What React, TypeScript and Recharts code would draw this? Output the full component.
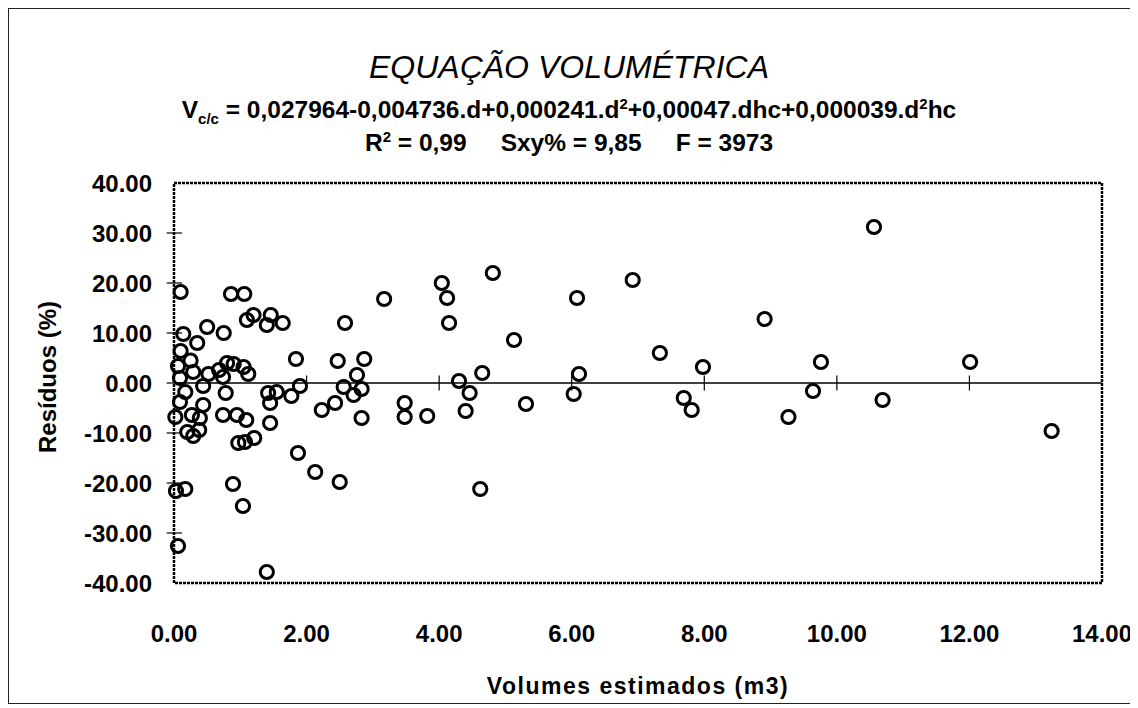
import React from "react";
import {
  ScatterChart,
  Scatter,
  XAxis,
  YAxis,
  ReferenceLine,
  ReferenceArea,
} from "recharts";

// volume estimado (m3)
const volumes = [
  0.1, 0.86, 1.06, 1.1, 1.2, 1.46, 1.4, 1.64, 0.5, 0.75, 0.14, 0.35, 0.1, 0.25,
  0.8, 0.9, 0.68, 1.05, 1.12, 0.06, 0.29, 0.52, 0.09, 0.74, 0.44, 0.17, 0.78,
  0.09, 0.44, 0.02, 0.27, 0.39, 0.74, 0.95, 1.09, 0.2, 0.29, 0.38, 0.97, 1.07,
  1.21, 1.42, 1.45, 1.45, 1.55, 1.77, 1.9, 0.03, 0.17, 0.06, 0.89, 1.04, 1.4,
  1.87, 2.13, 2.5, 1.84, 2.47, 2.87, 2.76, 2.56, 2.83, 2.71, 2.43, 2.23, 2.83,
  2.58, 3.17, 3.48, 3.48, 3.82, 4.04, 4.12, 4.15, 4.81, 5.13, 6.08, 6.92, 7.33,
  7.98, 4.65, 4.3, 4.46, 6.11, 6.03, 5.31, 4.4, 7.69, 7.81, 4.62, 10.56, 8.91,
  9.76, 9.64, 9.27, 10.69, 12.01, 13.24,
];

// resíduo (%)
const residuos = [
  18.2, 17.8, 17.8, 12.6, 13.6, 13.6, 11.6, 12.0, 11.2, 10.0, 9.8, 8.0, 6.4,
  4.5, 4.0, 3.8, 2.6, 3.2, 1.8, 3.4, 2.2, 1.8, 1.0, 1.2, -0.6, -1.8, -2.0, -3.8,
  -4.4, -6.8, -6.4, -7.0, -6.4, -6.4, -7.4, -9.8, -10.6, -9.4, -12.0, -11.8,
  -11.0, -2.0, -4.0, -8.0, -1.8, -2.6, -0.6, -21.6, -21.2, -32.6, -20.2, -24.6,
  -37.8, -14.0, -17.8, -19.8, 4.8, 4.4, 4.8, 1.6, -0.8, -1.2, -2.4, -4.0, -5.4,
  -7.0, 12.0, 16.8, -4.0, -6.8, -6.6, 20.0, 17.0, 12.0, 22.0, 8.6, 17.0, 20.6,
  6.0, 3.2, 2.0, 0.4, -2.0, 1.8, -2.2, -4.2, -5.6, -3.0, -5.4, -21.2, 31.2,
  12.8, 4.2, -1.6, -6.8, -3.4, 4.2, -9.6,
];

const xTicks = [0, 2, 4, 6, 8, 10, 12, 14];
const yTicks = [-40, -30, -20, -10, 0, 10, 20, 30, 40];

const data = volumes.map((v, i) => ({ x: v, y: residuos[i] }));

const FONT = "'Liberation Sans', Arial, sans-serif";
const fmt = (v: number) => v.toFixed(2);
const tickStyle = { fill: "#000", fontSize: 24, fontWeight: "bold", fontFamily: FONT };

const Ring = (props: any) => (
  <circle
    cx={props.cx}
    cy={props.cy}
    r={6.6}
    fill="none"
    stroke="#000"
    strokeWidth={3}
  />
);

const YTitle = () => (
  <text
    x={38}
    y={368}
    transform="rotate(-90 38 368)"
    textAnchor="middle"
    dominantBaseline="central"
    fontFamily={FONT}
    fontWeight="bold"
    fontSize={24}
    fill="#000"
  >
    Resíduos (%)
  </text>
);

export default function App() {
  return (
    <div
      style={{
        position: "relative",
        width: 1130,
        height: 696,
        border: "1px solid #222",
        borderRight: "none",
        boxSizing: "border-box",
        background: "#fff",
        fontFamily: FONT,
        color: "#000",
      }}
    >
      <div
        style={{
          position: "absolute",
          top: 42,
          left: 0,
          width: 1120,
          textAlign: "center",
          fontStyle: "italic",
          fontSize: 32,
          lineHeight: "32px",
        }}
      >
        EQUAÇÃO VOLUMÉTRICA
      </div>
      <div
        style={{
          position: "absolute",
          top: 82,
          left: 0,
          width: 1120,
          textAlign: "center",
          fontWeight: "bold",
          fontSize: 24.5,
          lineHeight: "26px",
        }}
      >
        V<sub style={{ fontSize: 15 }}>c/c</sub> =
        0,027964-0,004736.d+0,000241.d<sup style={{ fontSize: 15 }}>2</sup>
        +0,00047.dhc+0,000039.d<sup style={{ fontSize: 15 }}>2</sup>hc
      </div>
      <div
        style={{
          position: "absolute",
          top: 115,
          left: 0,
          width: 1120,
          textAlign: "center",
          fontWeight: "bold",
          fontSize: 24.5,
          lineHeight: "26px",
          whiteSpace: "pre",
        }}
      >
        R<sup style={{ fontSize: 15 }}>2</sup>
        {" = 0,99     Sxy% = 9,85     F = 3973"}
      </div>
      <div
        style={{
          position: "absolute",
          top: 664,
          left: 165,
          width: 928,
          textAlign: "center",
          fontWeight: "bold",
          fontSize: 23,
          letterSpacing: 1.5,
        }}
      >
        Volumes estimados (m3)
      </div>
      <div style={{ position: "absolute", top: 0, left: 0 }}>
        <ScatterChart
          width={1129}
          height={694}
          margin={{ top: 174, right: 36, bottom: 70, left: 65 }}
        >
          <XAxis
            type="number"
            dataKey="x"
            domain={[0, 14]}
            ticks={xTicks}
            tickFormatter={fmt}
            axisLine={false}
            tickLine={false}
            tickSize={6}
            tickMargin={36}
            height={50}
            tick={tickStyle}
          />
          <YAxis
            type="number"
            dataKey="y"
            domain={[-40, 40]}
            ticks={yTicks}
            tickFormatter={fmt}
            axisLine={false}
            tickLine={false}
            tickSize={6}
            tickMargin={16}
            width={100}
            tick={tickStyle}
          />
          <ReferenceArea
            x1={0}
            x2={14}
            y1={-40}
            y2={40}
            fill="none"
            stroke="#000"
            strokeWidth={2.5}
            strokeDasharray="3 1"
            ifOverflow="visible"
          />
          <ReferenceLine y={0} stroke="#000" strokeWidth={1.5} />
          {xTicks.slice(1, -1).map((t) => (
            <ReferenceLine
              key={"xt" + t}
              segment={[
                { x: t, y: -1.5 },
                { x: t, y: 1.5 },
              ]}
              stroke="#000"
              strokeWidth={1.2}
              ifOverflow="visible"
            />
          ))}
          {yTicks.slice(1, -1).map((t) => (
            <ReferenceLine
              key={"yt" + t}
              segment={[
                { x: -0.11, y: t },
                { x: 0.12, y: t },
              ]}
              stroke="#000"
              strokeWidth={1.2}
              ifOverflow="visible"
            />
          ))}
          <Scatter data={data} shape={Ring} isAnimationActive={false} />
          <YTitle />
        </ScatterChart>
      </div>
    </div>
  );
}
